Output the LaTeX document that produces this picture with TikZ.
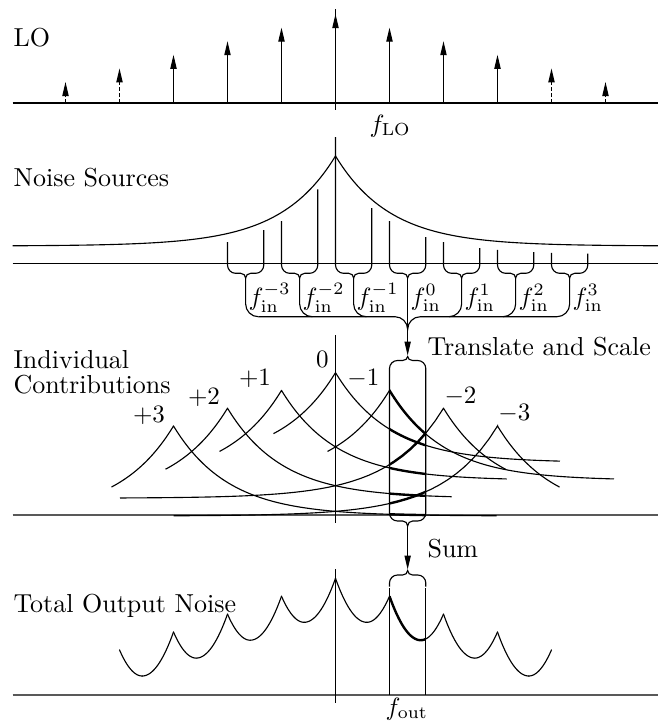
\documentclass[tikz,border=0pt]{standalone}
\usetikzlibrary{arrows.meta}
\newcommand\sbrace[3]{%
 \draw (#1,#2) -- (#1,265) .. controls (#1,269.4) and ({#1+3.6},273.3) .. ({#1+8},273.3) -- ({#1+13.15},273.3) .. controls ({#1+15.9},273.3) and ({#1+18.15},275.4) .. ({#1+18.15},278) .. controls ({#1+18.15},275.4) and ({#1+20.4},273.3) .. ({#1+23.15},273.3) -- ({#1+28.3},273.3) .. controls ({#1+32.7},273.3) and ({#1+36.3},269.4) .. ({#1+36.3},265) -- ({#1+36.3},#3);}
\newcommand\contrib[5]{%
 \draw[#5] plot[domain=#3:#1,samples=40] (\x,{#2+90*(1-exp(-(#1-\x)/54.7))})
   -- plot[domain=#1:#4,samples=90] (\x,{#2+90*(1-exp(-(\x-#1)/54.7))});}
\newcommand\allcontrib[1]{%
 \contrib{173.5}{426}{111.5}{496.7}{#1}
 \contrib{227.5}{408.2}{165.5}{451.7}{#1}
 \contrib{281.5}{390.4}{219.5}{506.7}{#1}
 \contrib{335.5}{372.6}{273.5}{560}{#1}
 \contrib{389.5}{390.4}{327.5}{614}{#1}
 \contrib{443.5}{408.2}{120}{505.5}{#1}
 \contrib{497.5}{426}{173.7}{559.5}{#1}}
\begin{document}
\begin{tikzpicture}[x=0.4pt,y=-0.4pt,line width=0.45pt,
  txt/.style={font=\fontsize{10.4}{12}\selectfont, inner sep=0pt},
  mth/.style={font=\fontsize{10}{12}\selectfont, inner sep=0pt},
  heavy/.style={line width=0.95pt},
  baseln/.style={line width=0.5pt, draw=black!65},
  tipa/.style={-{Triangle[length=5.6pt,width=2.5pt]}},
  weak/.style={dash pattern=on 1.6pt off 0.8pt}]
\def\C{335.5}
\fill[white] (0,0) rectangle (665,723);
\useasboundingbox (0,0) rectangle (665,723);

% ---------------- LO
\node[txt, anchor=base west] (lo) at (13,46) {LO};
\draw (12.7,103) -- (658,103);
\draw (\C,9) -- (\C,110);
\draw[tipa] (\C,103) -- (\C,14);
\foreach \k/\t in {1/27.6,2/41.2,3/54.8}{
  \draw[tipa] ({\C+54*\k},103) -- ({\C+54*\k},\t);
  \draw[tipa] ({\C-54*\k},103) -- ({\C-54*\k},\t);}
\foreach \k/\t in {4/68.4,5/82}{
  \foreach \s in {-1,1}{
    \draw[weak] ({\C+\s*54*\k},103) -- ({\C+\s*54*\k},{\t+13});
    \draw[tipa] ({\C+\s*54*\k},{\t+15}) -- ({\C+\s*54*\k},\t);}}
\node[mth, anchor=base west] (flo) at (369,132) {$f_{\mathrm{LO}}$};

% ---------------- Noise sources
\node[txt, anchor=base west] (ns) at (13,186) {Noise Sources};
\draw (12.7,263.3) -- (658,263.3);
\draw plot[domain=12.7:\C,samples=90] (\x,{156+90*(1-exp(-(\C-\x)/54.7))})
   -- plot[domain=\C:658,samples=90] (\x,{156+90*(1-exp(-(\x-\C)/54.7))});
\sbrace{227.5}{242.0}{230.2}
\sbrace{281.5}{221.0}{189.4}
\sbrace{335.5}{137}{208.2}
\sbrace{389.5}{221.0}{237.2}
\sbrace{443.5}{242.0}{248.1}
\sbrace{497.5}{249.8}{252.1}
\sbrace{551.5}{252.8}{253.6}
\foreach \t in {245.65,299.65,353.65}
  \draw (\t,278) -- (\t,304) .. controls (\t,311) and ({\t+5.7},316.7) .. ({\t+12.7},316.7);
\foreach \t in {461.65,515.65,569.65}
  \draw (\t,278) -- (\t,304) .. controls (\t,311) and ({\t-5.7},316.7) .. ({\t-12.7},316.7);
\draw (258.35,316.7) -- (394.95,316.7) .. controls (401.95,316.7) and (407.65,322.4) .. (407.65,329.4)
   .. controls (407.65,322.4) and (413.35,316.7) .. (420.35,316.7) -- (556.95,316.7);
\foreach \t/\e/\n in {245.65/-3/a,299.65/-2/b,353.65/-1/c,407.65/0/d,461.65/1/e,515.65/2/f,569.65/3/g}
  \node[mth, anchor=base west] (fin\n) at ({\t+2.5},305) {$f_{\mathrm{in}}^{\e}$};
\coordinate (bt) at (407.65,278);
\coordinate (tt) at (407.65,355.5);
\draw[tipa] (bt) -- (tt);
\node[txt, anchor=base west] (ts) at (427,355) {Translate and Scale};

% ---------------- Individual contributions
\node[txt, anchor=base west] (ind) at (13,368) {Individual};
\node[txt, anchor=base west] (con) at (13,393) {Contributions};
\draw[baseln] (12.7,515) -- (658,515);
\draw (\C,335) -- (\C,523.3);
\allcontrib{}
\begin{scope}
  \clip (389.5,340) rectangle (425.8,530);
  \allcontrib{heavy}
\end{scope}
\draw (389.5,368.5) .. controls (389.5,364.1) and (393.1,360.5) .. (397.5,360.5) -- (402.65,360.5)
  .. controls (405.4,360.5) and (407.65,358.6) .. (407.65,356.5)
  .. controls (407.65,358.6) and (409.9,360.5) .. (412.65,360.5) -- (417.8,360.5)
  .. controls (422.2,360.5) and (425.8,364.1) .. (425.8,368.5) -- (425.8,513)
  .. controls (425.8,517.4) and (422.2,521) .. (417.8,521) -- (412.65,521)
  .. controls (409.9,521) and (407.65,523.1) .. (407.65,526)
  .. controls (407.65,523.1) and (405.4,521) .. (402.65,521) -- (397.5,521)
  .. controls (393.1,521) and (389.5,517.4) .. (389.5,513) -- cycle;
\node[mth, anchor=base] (c0) at (322.5,367) {$0$};
\node[mth, anchor=base] (cp1) at (255,385.5) {$+1$};
\node[mth, anchor=base] (cp2) at (204,404) {$+2$};
\node[mth, anchor=base] (cp3) at (149,422) {$+3$};
\node[mth, anchor=base] (cm1) at (363.3,385) {$-1$};
\node[mth, anchor=base] (cm2) at (460.5,403) {$-2$};
\node[mth, anchor=base] (cm3) at (514.3,420) {$-3$};

% ---------------- Sum
\coordinate (sb) at (407.65,526);
\coordinate (st) at (407.65,569.5);
\draw[tipa] (sb) -- (st);
\node[txt, anchor=base west] (sum) at (427,557) {Sum};
\draw (389.5,586.5) -- (389.5,583) .. controls (389.5,578.6) and (393.1,575) .. (397.5,575) -- (402.65,575)
  .. controls (405.4,575) and (407.65,573.1) .. (407.65,570.5)
  .. controls (407.65,573.1) and (409.9,575) .. (412.65,575) -- (417.8,575)
  .. controls (422.2,575) and (425.8,578.6) .. (425.8,583) -- (425.8,586.5);

% ---------------- Total output noise
\node[txt, anchor=base west] (ton) at (13,612.7) {Total Output Noise};
\draw[baseln] (12.7,695) -- (658,695);
\draw (\C,569.3) -- (\C,703.3);
\draw (389.5,588) -- (389.5,695);
\draw (425.8,588) -- (425.8,695);
\foreach \sa/\sy/\sm/\sn in {119.5/649.9/142.2/676.0, 173.5/632.0/142.2/676.0,
   173.5/632.0/196.2/658.1, 227.5/614.1/196.2/658.1, 227.5/614.1/250.2/640.2,
   281.5/596.2/250.2/640.2, 281.5/596.2/304.2/622.3, 335.5/578.3/304.2/622.3,
   335.5/578.3/366.8/622.3, 389.5/596.2/366.8/622.3, 389.5/596.2/420.8/640.2,
   443.5/614.1/420.8/640.2, 443.5/614.1/474.8/658.1, 497.5/632.0/474.8/658.1,
   497.5/632.0/528.8/676.0, 551.5/649.9/528.8/676.0}
  \draw[line cap=round] plot[domain=\sa:\sm,samples=25] (\x,{\sn+(\sy-\sn)*((\x-\sm)/(\sa-\sm))*((\x-\sm)/(\sa-\sm))});
\begin{scope}
  \clip (389.5,560) rectangle (425.8,700);
  \foreach \sa/\sy/\sm/\sn in {389.5/596.2/420.8/640.2, 443.5/614.1/420.8/640.2}
    \draw[heavy] plot[domain=\sa:\sm,samples=25] (\x,{\sn+(\sy-\sn)*((\x-\sm)/(\sa-\sm))*((\x-\sm)/(\sa-\sm))});
\end{scope}
\node[mth, anchor=base west] (fout) at (385,715) {$f_{\mathrm{out}}$};
\end{tikzpicture}
\end{document}
